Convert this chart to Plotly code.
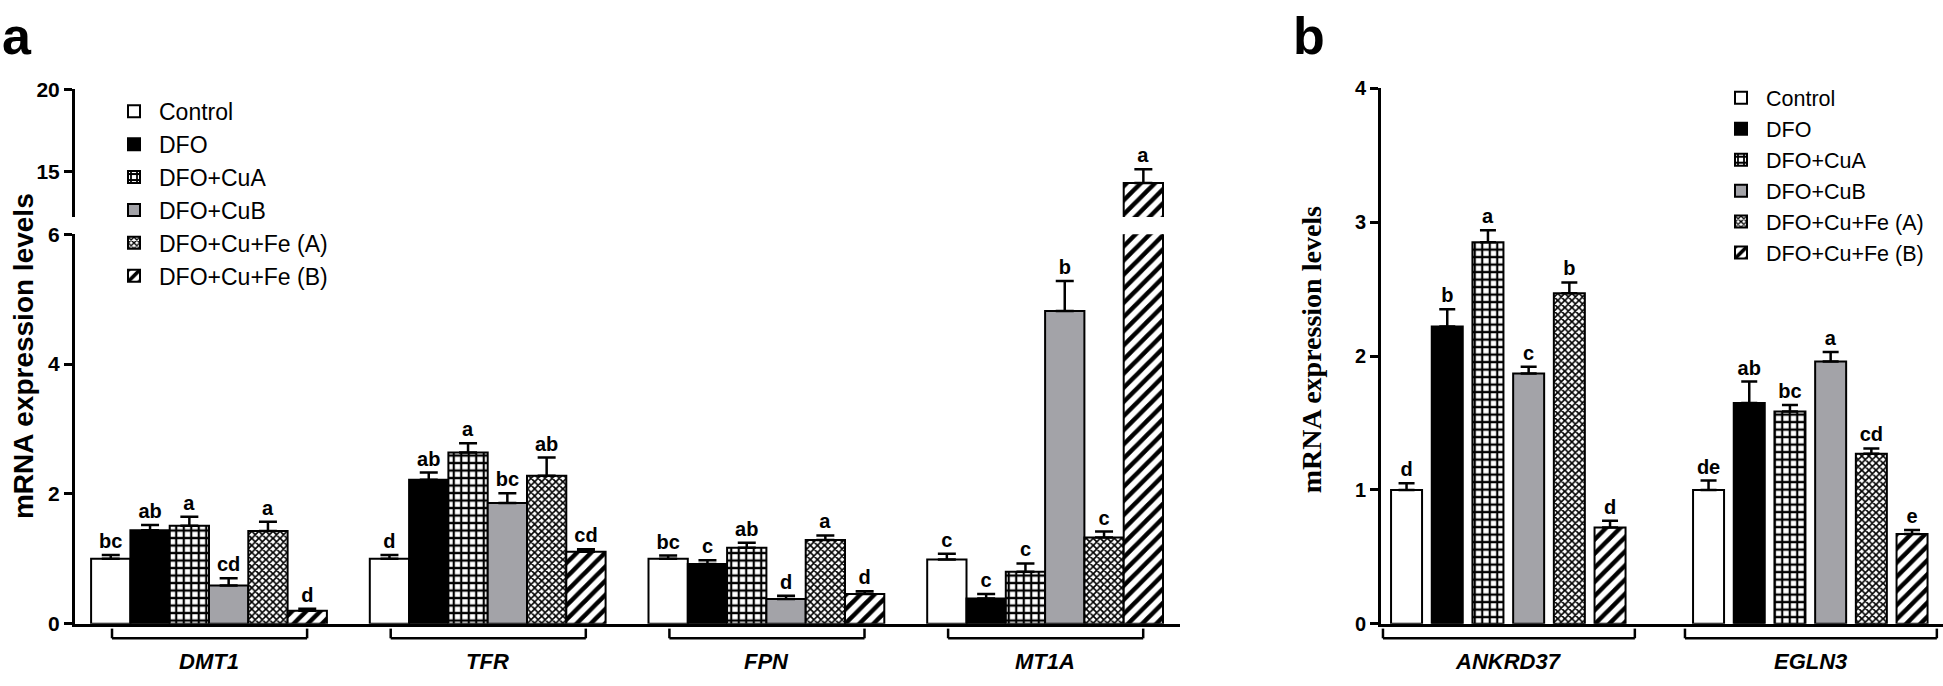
import plotly.graph_objects as go

W, H = 1943, 686

# ---------------- data ----------------
series = ["Control", "DFO", "DFO+CuA", "DFO+CuB", "DFO+Cu+Fe (A)", "DFO+Cu+Fe (B)"]

genes_a = ["DMT1", "TFR", "FPN", "MT1A"]
control_a = [1.00, 1.00, 1.00, 0.99]
control_a_err = [0.06, 0.06, 0.05, 0.09]
control_a_sig = ["bc", "d", "bc", "c"]
dfo_a = [1.44, 2.22, 0.92, 0.39]
dfo_a_err = [0.08, 0.11, 0.06, 0.07]
dfo_a_sig = ["ab", "ab", "c", "c"]
cua_a = [1.51, 2.64, 1.17, 0.80]
cua_a_err = [0.14, 0.14, 0.08, 0.13]
cua_a_sig = ["a", "a", "ab", "c"]
cub_a = [0.59, 1.86, 0.38, 4.82]
cub_a_err = [0.11, 0.15, 0.05, 0.46]
cub_a_sig = ["cd", "bc", "d", "b"]
fea_a = [1.43, 2.28, 1.29, 1.33]
fea_a_err = [0.14, 0.28, 0.07, 0.09]
fea_a_sig = ["a", "ab", "a", "c"]
feb_a = [0.20, 1.11, 0.46, 14.30]
feb_a_err = [0.03, 0.04, 0.04, 0.83]
feb_a_sig = ["d", "cd", "d", "a"]

genes_b = ["ANKRD37", "EGLN3"]
control_b = [1.00, 1.00]
control_b_err = [0.05, 0.07]
control_b_sig = ["d", "de"]
dfo_b = [2.22, 1.65]
dfo_b_err = [0.13, 0.16]
dfo_b_sig = ["b", "ab"]
cua_b = [2.85, 1.585]
cua_b_err = [0.09, 0.05]
cua_b_sig = ["a", "bc"]
cub_b = [1.87, 1.96]
cub_b_err = [0.05, 0.07]
cub_b_sig = ["c", "a"]
fea_b = [2.47, 1.27]
fea_b_err = [0.08, 0.04]
fea_b_sig = ["b", "cd"]
feb_b = [0.72, 0.67]
feb_b_err = [0.05, 0.03]
feb_b_sig = ["d", "e"]

ticks_a_low = [0, 2, 4, 6]
ticks_a_high = [15, 20]
ticks_b = [0, 1, 2, 3, 4]

vals_a = [control_a, dfo_a, cua_a, cub_a, fea_a, feb_a]
errs_a = [control_a_err, dfo_a_err, cua_a_err, cub_a_err, fea_a_err, feb_a_err]
sigs_a = [control_a_sig, dfo_a_sig, cua_a_sig, cub_a_sig, fea_a_sig, feb_a_sig]
vals_b = [control_b, dfo_b, cua_b, cub_b, fea_b, feb_b]
errs_b = [control_b_err, dfo_b_err, cua_b_err, cub_b_err, fea_b_err, feb_b_err]
sigs_b = [control_b_sig, dfo_b_sig, cua_b_sig, cub_b_sig, fea_b_sig, feb_b_sig]

# ---------------- styles / layout geometry (pixels) ----------------
SANS = "Liberation Sans, Arial, sans-serif"
SERIF = "Liberation Serif, Times New Roman, serif"
GRAY = "#a3a3a8"
STYLES = [
    dict(color="white", shape=""),
    dict(color="black", shape=""),
    dict(color="white", shape="+", size=7.5, solidity=0.5),
    dict(color=GRAY, shape=""),
    dict(color="white", shape="x", size=5, solidity=0.55),
    dict(color="white", shape="/", size=10, solidity=0.45),
]


def marker(k, lw):
    s = STYLES[k]
    m = dict(color=s["color"], line=dict(color="black", width=lw))
    if s["shape"]:
        m["pattern"] = dict(shape=s["shape"], fgcolor="black", bgcolor="white",
                            size=s["size"], solidity=s["solidity"], fillmode="replace")
    return m


def py(p):  # pixel row -> paper y
    return (H - p) / H


def px(p):  # pixel col -> paper x
    return p / W


# panel a geometry
A_L, A_R = 75, 1180
A_SPACING = 278.7
A_C0 = 209.0
A_SLOT = 39.3 / A_SPACING
A_Y0, A_Y6 = 633, 230
A_UP_BOT, A_UP_TOP = 212, 80
A_UP_MIN = 15 - (A_UP_BOT - 165) / 17.0

# panel b geometry
B_L, B_R = 1381, 1943
B_SPACING = 302.0
B_C0 = 1508.3
B_SLOT = 40.7 / B_SPACING
B_W = 31.0 / B_SPACING
B_Y0, B_Y4 = 633, 79

fig = go.Figure()

LETTER_FONT = dict(family=SANS, size=20, color="black", weight="bold")

# ---- panel a: lower and upper (broken) segments ----
for k in range(6):
    offset = (k - 3) * A_SLOT
    for yax, lo, hi, show in (("y", 0, 6, True), ("y2", A_UP_MIN, 20, False)):
        fig.add_trace(go.Bar(
            x=genes_a, y=vals_a[k], name=series[k], xaxis="x", yaxis=yax,
            offset=offset, width=A_SLOT, marker=marker(k, 2),
            error_y=dict(type="data", array=errs_a[k], arrayminus=[0] * len(genes_a),
                         symmetric=False, color="black", thickness=2.5, width=9),
            showlegend=show, legend="legend", legendgroup=f"a{k}", hoverinfo="skip",
        ))
        tops = [v + e for v, e in zip(vals_a[k], errs_a[k])]
        txt = [s if lo <= t <= hi else "" for s, t in zip(sigs_a[k], tops)]
        fig.add_trace(go.Bar(
            x=genes_a, y=tops, xaxis="x", yaxis=yax, offset=offset, width=A_SLOT,
            marker=dict(color="rgba(0,0,0,0)", line=dict(width=0)),
            text=txt, textposition="outside", textfont=LETTER_FONT,
            constraintext="none", cliponaxis=False, showlegend=False, hoverinfo="skip",
        ))

# ---- panel b ----
for k in range(6):
    offset = (k - 2.5) * B_SLOT - B_W / 2
    fig.add_trace(go.Bar(
        x=genes_b, y=vals_b[k], name=series[k], xaxis="x2", yaxis="y3",
        offset=offset, width=B_W, marker=marker(k, 2),
        error_y=dict(type="data", array=errs_b[k], arrayminus=[0] * len(genes_b),
                     symmetric=False, color="black", thickness=2.5, width=8),
        showlegend=True, legend="legend2", legendgroup=f"b{k}", hoverinfo="skip",
    ))
    tops = [v + e for v, e in zip(vals_b[k], errs_b[k])]
    fig.add_trace(go.Bar(
        x=genes_b, y=tops, xaxis="x2", yaxis="y3", offset=offset, width=B_W,
        marker=dict(color="rgba(0,0,0,0)", line=dict(width=0)),
        text=sigs_b[k], textposition="outside",
        textfont=dict(family=SANS, size=20, color="black", weight="bold"),
        constraintext="none", cliponaxis=False, showlegend=False, hoverinfo="skip",
    ))

axis_common = dict(showgrid=False, zeroline=False, showline=True, linecolor="black",
                   linewidth=3, fixedrange=True)


def ytick(size):
    return dict(ticks="outside", ticklen=8, tickwidth=3, tickcolor="black",
                tickfont=dict(family=SANS, size=size, color="black", weight="bold"))


a_r0 = -(A_C0 - A_L) / A_SPACING
a_r1 = a_r0 + (A_R - A_L) / A_SPACING
b_r0 = -(B_C0 - B_L) / B_SPACING
b_r1 = b_r0 + (B_R - B_L) / B_SPACING

fig.update_layout(
    width=W, height=H, margin=dict(l=0, r=0, t=0, b=0),
    paper_bgcolor="white", plot_bgcolor="white",
    barmode="overlay",
    font=dict(family=SANS, color="black"),
    xaxis=dict(domain=[px(A_L), px(A_R)], range=[a_r0, a_r1], anchor="y",
               showticklabels=False, ticks="", **axis_common),
    yaxis=dict(domain=[py(A_Y0), py(A_Y6)], range=[0, 6], anchor="x",
               tickvals=ticks_a_low, **ytick(21), **axis_common),
    yaxis2=dict(domain=[py(A_UP_BOT), py(A_UP_TOP)], range=[A_UP_MIN, 20], anchor="x",
                tickvals=ticks_a_high, **ytick(21), **axis_common),
    xaxis2=dict(domain=[px(B_L), px(B_R)], range=[b_r0, b_r1], anchor="y3",
                showticklabels=False, ticks="", **axis_common),
    yaxis3=dict(domain=[py(B_Y0), py(B_Y4)], range=[0, 4], anchor="x2",
                tickvals=ticks_b, **ytick(20), **axis_common),
    legend=dict(x=px(109), y=py(80.5), xanchor="left", yanchor="top", itemwidth=40,
                bgcolor="rgba(0,0,0,0)", font=dict(family=SANS, size=23, color="black"),
                traceorder="grouped", tracegroupgap=0),
    legend2=dict(x=px(1716), y=py(67.6), xanchor="left", yanchor="top", itemwidth=40,
                 bgcolor="rgba(0,0,0,0)", font=dict(family=SANS, size=21.5, color="black"),
                 traceorder="grouped", tracegroupgap=0),
)

shapes = []
annotations = []


def bracket(xref, cx, lft, rgt):
    yb, yt = py(648), py(638)
    return [
        dict(type="line", xref=xref, yref="paper", x0=cx + lft, x1=cx + rgt, y0=yb, y1=yb,
             line=dict(color="black", width=2.5)),
        dict(type="line", xref=xref, yref="paper", x0=cx + lft, x1=cx + lft, y0=yb, y1=yt,
             line=dict(color="black", width=2.5)),
        dict(type="line", xref=xref, yref="paper", x0=cx + rgt, x1=cx + rgt, y0=yb, y1=yt,
             line=dict(color="black", width=2.5)),
    ]


for gi, g in enumerate(genes_a):
    shapes += bracket("x", gi, -0.348, 0.352)
    annotations.append(dict(xref="x", yref="paper", x=gi, y=py(672), xanchor="center",
                            yanchor="middle", text=f"<b><i>{g}</i></b>", showarrow=False,
                            font=dict(family=SANS, size=22, color="black")))
for gi, g in enumerate(genes_b):
    shapes += bracket("x2", gi, -0.415, 0.419)
    annotations.append(dict(xref="x2", yref="paper", x=gi, y=py(672), xanchor="center",
                            yanchor="middle", text=f"<b><i>{g}</i></b>", showarrow=False,
                            font=dict(family=SANS, size=22, color="black")))

annotations += [
    dict(xref="paper", yref="paper", x=px(23), y=py(356), xanchor="center", yanchor="middle",
         text="<b>mRNA expression levels</b>", textangle=-90, showarrow=False,
         font=dict(family=SANS, size=28, color="black")),
    dict(xref="paper", yref="paper", x=px(1311), y=py(350), xanchor="center", yanchor="middle",
         text="<b>mRNA expression levels</b>", textangle=-90, showarrow=False,
         font=dict(family=SERIF, size=28, color="black")),
    dict(xref="paper", yref="paper", x=px(0), y=py(25), xanchor="left", yanchor="middle",
         text="<b>a</b>", showarrow=False, font=dict(family=SANS, size=52, color="black")),
    dict(xref="paper", yref="paper", x=px(1291), y=py(25), xanchor="left", yanchor="middle",
         text="<b>b</b>", showarrow=False, font=dict(family=SANS, size=52, color="black")),
]

fig.update_layout(shapes=shapes, annotations=annotations)
fig.write_html("out.html", config={"displayModeBar": False},
               post_script="document.body.style.margin='0';document.body.style.overflow='hidden';")
